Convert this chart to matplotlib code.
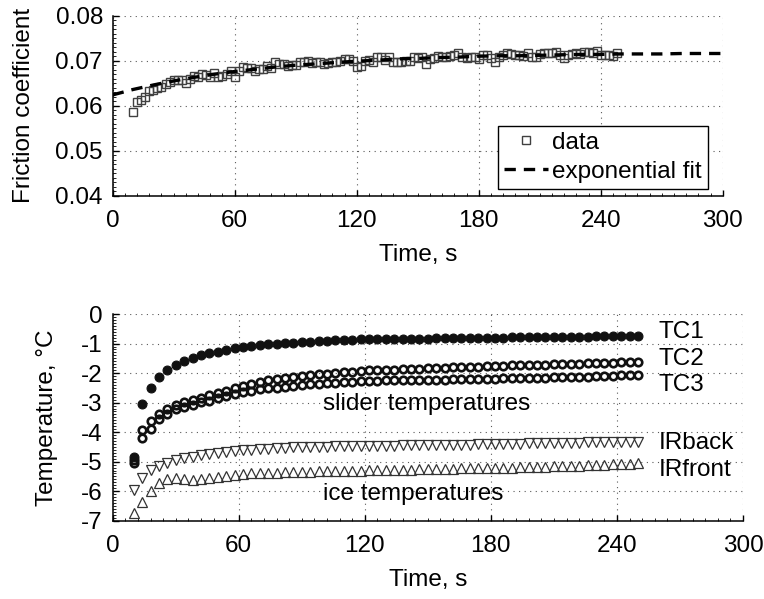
import numpy as np
import matplotlib
matplotlib.use('Agg')
import matplotlib.pyplot as plt
from matplotlib.ticker import AutoMinorLocator

plt.rcParams['font.family'] = ['Liberation Sans', 'DejaVu Sans']
plt.rcParams['font.size'] = 17.5
plt.rcParams['axes.unicode_minus'] = False

# friction data, one sample every 2 s from 10 s to 248 s
fric_time = np.arange(10, 250, 2)
fric_data = [
    0.0587, 0.0608, 0.0613, 0.0620, 0.0633, 0.0635, 0.0640, 0.0642, 0.0649, 0.0652,
    0.0657, 0.0658, 0.0656, 0.0651, 0.0660, 0.0666, 0.0664, 0.0671, 0.0668, 0.0664,
    0.0673, 0.0664, 0.0667, 0.0670, 0.0676,
    0.0664, 0.0676, 0.0685, 0.0683, 0.0684, 0.0677, 0.0681, 0.0682, 0.0689, 0.0683,
    0.0696, 0.0692, 0.0692, 0.0689, 0.0690, 0.0690, 0.0696, 0.0696, 0.0699, 0.0694,
    0.0696, 0.0697, 0.0693, 0.0695, 0.0696, 0.0697, 0.0700, 0.0703, 0.0703, 0.0699,
    0.0687, 0.0688, 0.0700,
    0.0702, 0.0696, 0.0709, 0.0709, 0.0702, 0.0709, 0.0696, 0.0696, 0.0698, 0.0700,
    0.0700, 0.0709, 0.0705, 0.0708, 0.0693, 0.0703, 0.0705, 0.0710, 0.0708, 0.0708,
    0.0710, 0.0713, 0.0718, 0.0709, 0.0705, 0.0708, 0.0708, 0.0703, 0.0713, 0.0713,
    0.0705, 0.0696, 0.0709, 0.0713, 0.0716, 0.0715, 0.0713, 0.0713, 0.0710, 0.0716,
    0.0708, 0.0708, 0.0715, 0.0716, 0.0718, 0.0718, 0.0720, 0.0713, 0.0705, 0.0713,
    0.0715, 0.0718, 0.0715, 0.0720, 0.0720, 0.0716, 0.0722, 0.0713, 0.0713, 0.0713,
    0.0710, 0.0716,
]

# exponential fit, read every 10 s
fit_time = [0, 10, 20, 30, 40, 50, 60, 70, 80, 90, 100, 110, 120, 130, 140, 150,
            160, 170, 180, 190, 200, 210, 220, 230, 240, 250, 260, 270, 280, 290, 300]
fit_data = [0.0624, 0.0636, 0.0646, 0.0655, 0.0663, 0.0670, 0.0676, 0.0681, 0.0686,
            0.0690, 0.0693, 0.0696, 0.0699, 0.0701, 0.0704, 0.0705, 0.0707, 0.0708,
            0.0710, 0.0711, 0.0711, 0.0712, 0.0713, 0.0714, 0.0714, 0.0715, 0.0715,
            0.0715, 0.0716, 0.0716, 0.0716]

# temperatures, one sample every 4 s from 10 s to 250 s
temp_time = np.arange(10, 251, 4)
tc1 = [-4.85, -3.03, -2.52, -2.12, -1.88, -1.71, -1.59, -1.50, -1.40, -1.31, -1.27, -1.21,
       -1.16, -1.11, -1.08, -1.05, -1.03, -1.02, -0.99, -0.97, -0.95, -0.93, -0.92, -0.90,
       -0.89, -0.88, -0.87, -0.86, -0.86, -0.85, -0.85, -0.84, -0.84, -0.84, -0.83, -0.83,
       -0.82, -0.82, -0.82, -0.81, -0.81, -0.81, -0.80, -0.80, -0.80, -0.79, -0.79, -0.79,
       -0.78, -0.78, -0.78, -0.78, -0.77, -0.77, -0.77, -0.76, -0.76, -0.76, -0.76, -0.75,
       -0.75]
tc2 = [-4.95, -3.93, -3.62, -3.39, -3.21, -3.08, -2.99, -2.91, -2.83, -2.75, -2.67, -2.59,
       -2.51, -2.43, -2.36, -2.30, -2.25, -2.20, -2.16, -2.13, -2.10, -2.07, -2.04, -2.02,
       -2.00, -1.97, -1.95, -1.93, -1.91, -1.90, -1.89, -1.88, -1.87, -1.86, -1.85, -1.84,
       -1.83, -1.82, -1.81, -1.80, -1.79, -1.78, -1.77, -1.76, -1.75, -1.74, -1.73, -1.72,
       -1.71, -1.71, -1.70, -1.69, -1.68, -1.68, -1.67, -1.66, -1.66, -1.65, -1.64, -1.63,
       -1.62]
tc3 = [-5.05, -4.21, -3.89, -3.57, -3.39, -3.23, -3.14, -3.07, -2.99, -2.94, -2.86, -2.78,
       -2.71, -2.65, -2.59, -2.55, -2.52, -2.49, -2.46, -2.44, -2.41, -2.38, -2.36, -2.34,
       -2.32, -2.31, -2.29, -2.28, -2.27, -2.26, -2.25, -2.25, -2.24, -2.24, -2.23, -2.23,
       -2.22, -2.22, -2.21, -2.21, -2.20, -2.20, -2.19, -2.19, -2.18, -2.18, -2.17, -2.16,
       -2.16, -2.15, -2.14, -2.14, -2.13, -2.12, -2.12, -2.11, -2.10, -2.09, -2.08, -2.08,
       -2.07]
ir_back = [-5.97, -5.55, -5.29, -5.14, -5.04, -4.95, -4.89, -4.84, -4.79, -4.74, -4.70,
           -4.67, -4.64, -4.62, -4.60, -4.58, -4.56, -4.54, -4.53, -4.52, -4.51, -4.50,
           -4.49, -4.49, -4.48, -4.48, -4.47, -4.47, -4.47, -4.46, -4.46, -4.46, -4.45,
           -4.45, -4.45, -4.44, -4.44, -4.43, -4.43, -4.42, -4.42, -4.41, -4.41, -4.40,
           -4.40, -4.39, -4.39, -4.38, -4.38, -4.37, -4.37, -4.37, -4.36, -4.36, -4.35,
           -4.35, -4.35, -4.34, -4.34, -4.33, -4.33]
ir_front = [-6.73, -6.37, -6.01, -5.72, -5.60, -5.57, -5.60, -5.62, -5.60, -5.57, -5.52,
            -5.48, -5.45, -5.42, -5.40, -5.39, -5.38, -5.37, -5.36, -5.35, -5.35, -5.34,
            -5.33, -5.32, -5.32, -5.31, -5.30, -5.30, -5.29, -5.29, -5.28, -5.28, -5.27,
            -5.27, -5.26, -5.26, -5.25, -5.25, -5.24, -5.23, -5.23, -5.22, -5.22, -5.21,
            -5.21, -5.20, -5.19, -5.19, -5.18, -5.17, -5.16, -5.15, -5.14, -5.13, -5.12,
            -5.11, -5.10, -5.09, -5.08, -5.07, -5.06]

series_labels = ['TC1', 'TC2', 'TC3', 'IRback', 'IRfront']
label_y = [-0.61, -1.51, -2.41, -4.36, -5.27]


def style_axes(ax):
    ax.spines['top'].set_visible(False)
    ax.spines['right'].set_visible(False)
    ax.spines['left'].set_linewidth(1.1)
    ax.spines['bottom'].set_linewidth(1.1)
    ax.grid(True, linestyle=(0, (1, 4)), color='0.35', linewidth=0.8)
    ax.set_axisbelow(True)
    ax.xaxis.set_minor_locator(AutoMinorLocator(10))
    ax.yaxis.set_minor_locator(AutoMinorLocator(10))
    ax.tick_params(which='major', direction='in', length=4, width=1)
    ax.tick_params(which='minor', direction='in', length=2, width=0.6)
    ax.tick_params(axis='x', which='major', pad=10)
    ax.tick_params(axis='y', which='major', pad=7)


fig = plt.figure(figsize=(7.64, 5.99), dpi=100)

# top panel: friction coefficient
ax1 = fig.add_axes([0.1475, 0.6733, 0.7985, 0.3005])
ax1.plot(fric_time, fric_data, 's', ms=5.5, mfc='none', mec='0.25', mew=1.0,
         label='data', zorder=3)
ax1.plot(fit_time, fit_data, '--', color='black', lw=2.4, dashes=(3.4, 2.4),
         label='exponential fit', zorder=4)
ax1.set_xlim(0, 300)
ax1.set_ylim(0.04, 0.08)
ax1.set_xticks([0, 60, 120, 180, 240, 300])
ax1.set_yticks([0.04, 0.05, 0.06, 0.07, 0.08])
ax1.set_yticklabels(['0.04', '0.05', '0.06', '0.07', '0.08'])
ax1.set_xlabel('Time, s', labelpad=9)
ax1.set_ylabel('Friction coefficient', labelpad=15)
style_axes(ax1)
leg = ax1.legend(loc='lower right', bbox_to_anchor=(0.976, 0.037), borderaxespad=0,
                 fancybox=False, edgecolor='black', framealpha=1, handlelength=1.8,
                 handletextpad=0.2, labelspacing=0.3, borderpad=0.25)
leg.get_frame().set_linewidth(1.0)

# bottom panel: temperatures
ax2 = fig.add_axes([0.1475, 0.1307, 0.825, 0.345])
ax2.plot(temp_time, tc1, 'o', ms=6.4, mfc='#111111', mec='#111111', mew=0.8)
ax2.plot(temp_time, tc2, 'o', ms=5.4, mfc='none', mec='#111111', mew=1.9)
ax2.plot(temp_time, tc3, 'o', ms=5.4, mfc='none', mec='#111111', mew=1.9)
ax2.plot(temp_time, ir_back, 'v', ms=6.8, mfc='none', mec='0.2', mew=0.9)
ax2.plot(temp_time, ir_front, '^', ms=6.8, mfc='none', mec='0.2', mew=0.9)
for name, yy in zip(series_labels, label_y):
    ax2.text(260, yy, name, va='center', ha='left')
ax2.text(100, -3.05, 'slider temperatures', va='center', ha='left')
ax2.text(100, -6.1, 'ice temperatures', va='center', ha='left')
ax2.set_xlim(0, 300)
ax2.set_ylim(-7, 0)
ax2.set_xticks([0, 60, 120, 180, 240, 300])
ax2.set_yticks(range(-7, 1))
ax2.set_xlabel('Time, s', labelpad=9)
ax2.set_ylabel('Temperature, \u00b0C', labelpad=17)
style_axes(ax2)

fig.savefig('out.png', dpi=100)
